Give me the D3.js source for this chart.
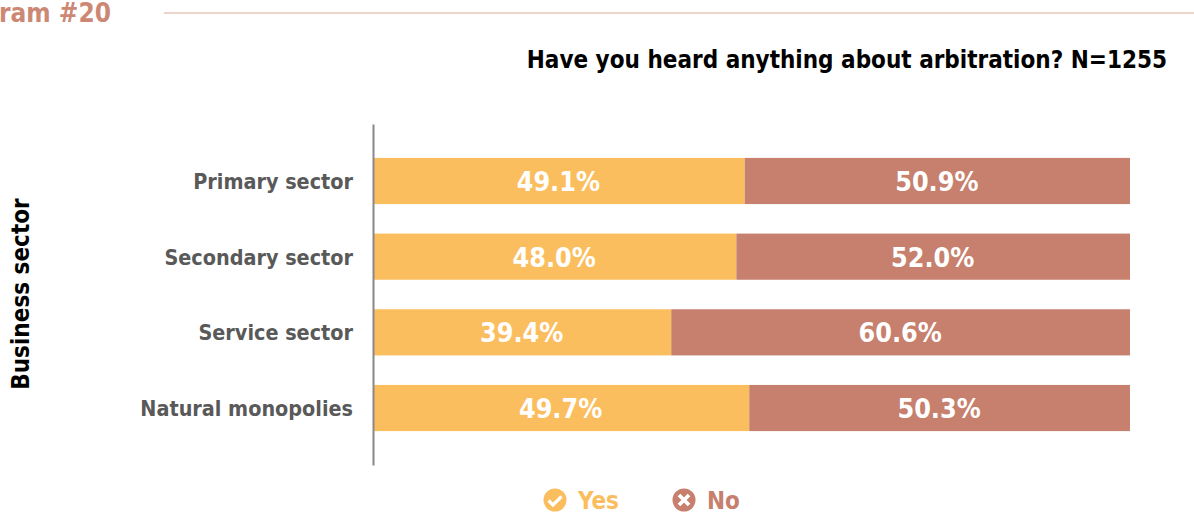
<!DOCTYPE html>
<html>
<head>
<meta charset="utf-8">
<script src="https://cdn.jsdelivr.net/npm/d3@7/dist/d3.min.js"></script>
<style>
  html, body { margin: 0; padding: 0; background: #fff; overflow: hidden; }
  svg { display: block; }
  svg text { font-family: "DejaVu Sans", sans-serif; font-weight: 700; font-stretch: condensed; }
</style>
</head>
<body>
<svg id="chart" width="1194" height="512"></svg>
<script>
const categories = ["Primary sector", "Secondary sector", "Service sector", "Natural monopolies"];
const yesValues = [49.1, 48.0, 39.4, 49.7];
const noValues = [50.9, 52.0, 60.6, 50.3];
const seriesNames = ["Yes", "No"];
const seriesColors = ["#fbbe5f", "#c6806d"];
const heading = "Diagram #20";
const chartTitle = "Have you heard anything about arbitration? N=1255";
const axisTitle = "Business sector";

const svg = d3.select("#chart");

const x = d3.scaleLinear().domain([0, 100]).range([373, 1130]);
const y = d3.scaleBand().domain(categories).range([124, 465]).paddingInner(0.39).paddingOuter(0.448);

// Page heading, running off the left edge, with its rule
svg.append("text").attr("x", 111).attr("y", 22).attr("text-anchor", "end")
  .attr("font-size", 26).attr("fill", "#cc8874").text(heading);
svg.append("line").attr("x1", 164).attr("x2", 1194).attr("y1", 13).attr("y2", 13)
  .attr("stroke", "#eed5cc").attr("stroke-width", 2);

svg.append("text").attr("x", 1167).attr("y", 68).attr("text-anchor", "end")
  .attr("font-size", 24).attr("fill", "#000").text(chartTitle);

svg.append("text").attr("transform", "translate(29,294) rotate(-90)").attr("text-anchor", "middle")
  .attr("font-size", 24).attr("fill", "#000").text(axisTitle);

// Stacked bars
const stacked = categories.map((c, i) => ({ c, yes: yesValues[i], no: noValues[i] }));
const layers = d3.stack().keys(["yes", "no"])(stacked);

layers.forEach((layer, k) => {
  const g = svg.append("g");
  g.selectAll("rect").data(layer).join("rect")
    .attr("x", d => x(d[0]))
    .attr("y", d => y(d.data.c))
    .attr("width", d => x(d[1]) - x(d[0]))
    .attr("height", y.bandwidth())
    .attr("fill", seriesColors[k]);
  g.selectAll("text").data(layer).join("text")
    .attr("x", d => x((d[0] + d[1]) / 2) - 0.5)
    .attr("y", d => y(d.data.c) + y.bandwidth() / 2 + 10)
    .attr("text-anchor", "middle")
    .attr("font-size", 26.7)
    .attr("fill", "#fff")
    .text(d => (d[1] - d[0]).toFixed(1) + "%");
});

// Category axis
const axis = svg.append("g").attr("transform", "translate(373,0)")
  .call(d3.axisLeft(y).tickSize(0).tickPadding(20));
axis.select(".domain").attr("stroke", "#888").attr("stroke-width", 2);
axis.selectAll("text")
  .attr("dy", "0.37em")
  .attr("font-size", 21.4).attr("fill", "#595959");

// Legend with check and cross badges
const legendItems = [
  { cx: 555, tx: 578, icon: "check" },
  { cx: 684, tx: 707, icon: "cross" }
];
legendItems.forEach((item, i) => {
  const g = svg.append("g");
  g.append("circle").attr("cx", item.cx).attr("cy", 500).attr("r", 11.5).attr("fill", seriesColors[i]);
  const path = item.icon === "check"
    ? `M${item.cx - 6.5},${500.5} l4.5,4.5 l8.5,-8.5`
    : `M${item.cx - 5},${495} l10,10 M${item.cx + 5},${495} l-10,10`;
  g.append("path").attr("d", path).attr("fill", "none").attr("stroke", "#fff")
    .attr("stroke-width", item.icon === "check" ? 3.2 : 3.8);
  g.append("text").attr("x", item.tx).attr("y", 509)
    .attr("font-size", 24).attr("fill", seriesColors[i]).text(seriesNames[i]);
});
</script>
</body>
</html>
